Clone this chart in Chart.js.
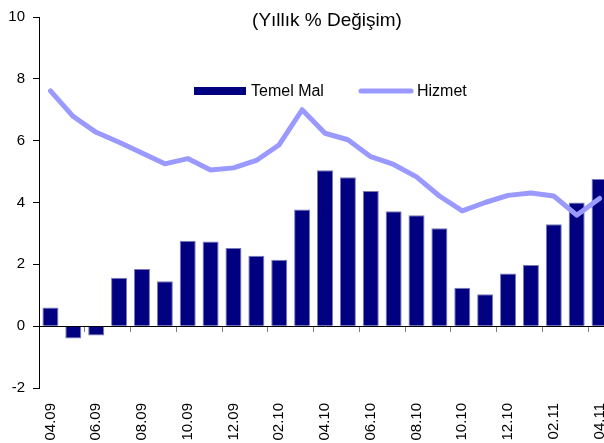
<!DOCTYPE html>
<html lang="tr">
<head>
    <meta charset="UTF-8">
    <title>Temel Mal ve Hizmet</title>
    <script src="https://cdn.jsdelivr.net/npm/chart.js"></script>
    <style>
        body { margin: 0; background: #fff; }
        /* the original plot runs a few pixels past the right edge, so the canvas is cropped */
        #wrap { width: 604px; height: 443px; overflow: hidden; }
    </style>
</head>
<body>
    <div id="wrap"><canvas id="chart" width="611" height="443"></canvas></div>

    <script>
        // monthly, 04.09 .. 04.11 (only every other month gets a label)
        const months = ['04.09', '05.09', '06.09', '07.09', '08.09', '09.09', '10.09', '11.09', '12.09',
            '01.10', '02.10', '03.10', '04.10', '05.10', '06.10', '07.10', '08.10', '09.10', '10.10',
            '11.10', '12.10', '01.11', '02.11', '03.11', '04.11'];

        const temelMal = [0.6, -0.4, -0.3, 1.57, 1.85, 1.45, 2.76, 2.74, 2.53, 2.28, 2.15, 3.77, 5.04,
            4.82, 4.37, 3.72, 3.59, 3.17, 1.24, 1.03, 1.70, 1.98, 3.30, 4.00, 4.76];

        const hizmet = [7.61, 6.78, 6.27, 5.95, 5.60, 5.25, 5.42, 5.05, 5.12, 5.36, 5.87, 7.00, 6.24,
            6.03, 5.48, 5.23, 4.83, 4.21, 3.73, 4.00, 4.23, 4.31, 4.21, 3.59, 4.13];

        const yTicks = [-2, 0, 2, 4, 6, 8, 10];

        const font = 'Liberation Sans, Arial, sans-serif';
        const navy = '#000080';
        const lilac = '#9999ff';

        // title and legend sit inside the plot area in the original
        const overlay = {
            id: 'overlay',
            afterDraw(chart) {
                const ctx = chart.ctx;
                const bars = chart.data.datasets[1];
                const line = chart.data.datasets[0];
                ctx.save();
                ctx.fillStyle = '#000';
                ctx.textBaseline = 'middle';
                ctx.textAlign = 'center';
                ctx.font = '19px ' + font;
                ctx.fillText('(Yıllık % Değişim)', 327, 21);

                ctx.textAlign = 'left';
                ctx.font = '16px ' + font;
                ctx.fillStyle = bars.backgroundColor;
                ctx.fillRect(194, 87, 52, 8);
                ctx.fillStyle = '#000';
                ctx.fillText(bars.label, 251, 92);

                ctx.strokeStyle = line.borderColor;
                ctx.lineWidth = 5;
                ctx.lineCap = 'round';
                ctx.beginPath();
                ctx.moveTo(361, 91);
                ctx.lineTo(411, 91);
                ctx.stroke();
                ctx.fillText(line.label, 417, 92);
                ctx.restore();
            }
        };

        const noSidePadding = s => { s.paddingLeft = 0; s.paddingRight = 0; };

        new Chart(document.getElementById('chart'), {
            type: 'bar',
            data: {
                labels: months,
                datasets: [
                    {
                        label: 'Hizmet',
                        type: 'line',
                        data: hizmet,
                        borderColor: lilac,
                        backgroundColor: lilac,
                        borderWidth: 5,
                        borderCapStyle: 'round',
                        borderJoinStyle: 'round',
                        pointRadius: 0,
                        tension: 0,
                        order: 0
                    },
                    {
                        label: 'Temel Mal',
                        data: temelMal,
                        backgroundColor: navy,
                        borderColor: '#7a7ab8',
                        borderWidth: 1,
                        barPercentage: 0.7,
                        categoryPercentage: 1,
                        order: 1
                    }
                ]
            },
            options: {
                responsive: false,
                animation: false,
                layout: { padding: { top: 15, right: 0, left: 0, bottom: 0 } },
                plugins: {
                    legend: { display: false },
                    title: { display: false },
                    tooltip: { enabled: false }
                },
                scales: {
                    x: {
                        type: 'category',
                        position: 'bottom',
                        offset: true,
                        grid: { display: false, offset: true },
                        border: { display: false },
                        ticks: {
                            autoSkip: false,
                            minRotation: 90,
                            maxRotation: 90,
                            padding: 7,
                            color: '#000',
                            font: { family: font, size: 15 },
                            callback: (v, i) => (i % 2 === 0 ? months[i] : '')
                        },
                        afterFit: s => { s.height = 55; noSidePadding(s); }
                    },
                    zero: {
                        type: 'category',
                        axis: 'x',
                        position: { y: 0 },
                        offset: true,
                        grid: {
                            offset: true,
                            drawOnChartArea: false,
                            tickLength: 5,
                            color: ctx => (ctx.index % 2 === 0 && ctx.index > 0 ? '#808080' : 'rgba(0,0,0,0)')
                        },
                        border: { display: true, color: '#000', width: 1 },
                        ticks: { display: false },
                        afterFit: noSidePadding
                    },
                    y: {
                        min: -2,
                        max: 10,
                        afterBuildTicks: s => { s.ticks = yTicks.map(v => ({ value: v })); },
                        grid: { drawOnChartArea: false, tickLength: 6, color: '#000' },
                        border: { display: true, color: '#000', width: 1 },
                        ticks: {
                            padding: 8,
                            color: '#000',
                            font: { family: font, size: 15 }
                        },
                        afterFit: s => { s.width = 39; }
                    }
                }
            },
            plugins: [overlay]
        });
    </script>
</body>
</html>
